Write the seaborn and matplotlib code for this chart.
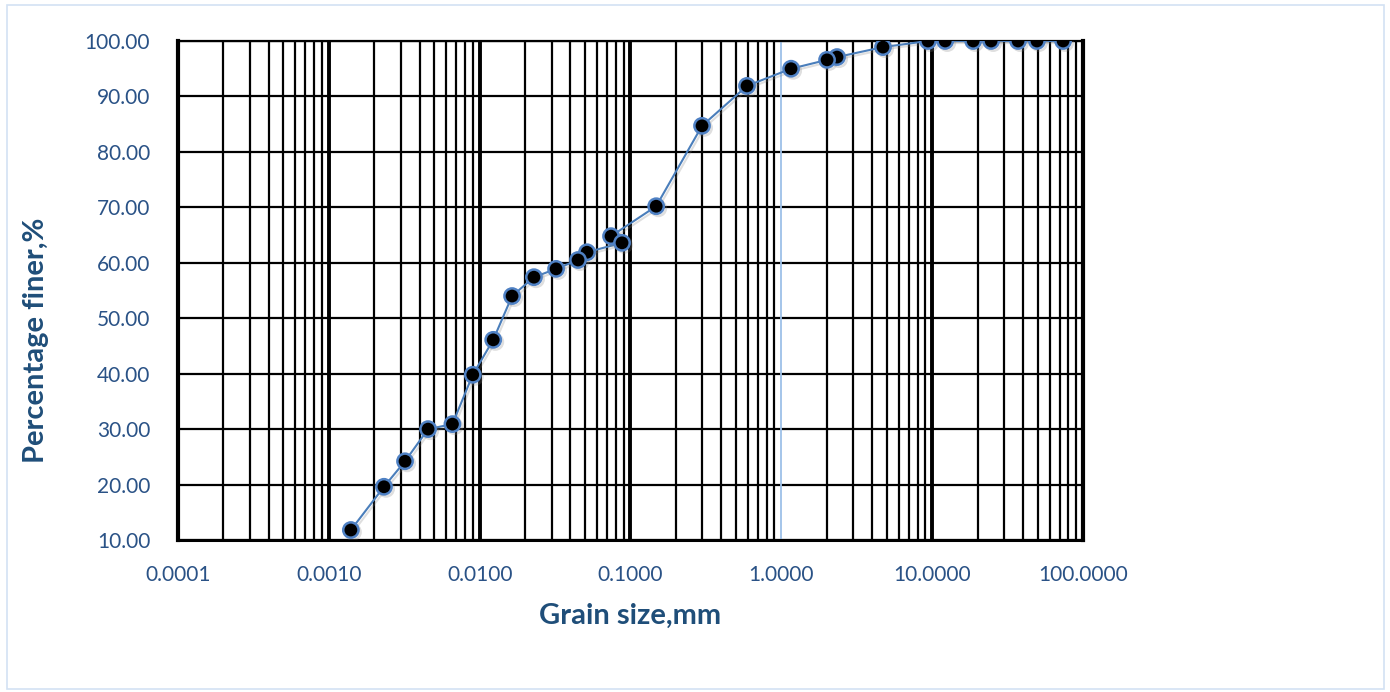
import matplotlib
matplotlib.use("Agg")
import matplotlib.pyplot as plt
import matplotlib.ticker as mticker
import matplotlib.patheffects as pe
from matplotlib.patches import Rectangle
import numpy as np
import pandas as pd
import seaborn as sns

# Grain-size distribution: sieve analysis followed by hydrometer readings
grain_size_mm = [73.8, 49.5, 37.1, 24.6, 18.7, 12.2, 9.38, 4.72, 2.34, 2.01, 1.16,
                 0.592, 0.298, 0.148, 0.0743, 0.0879, 0.0515, 0.0449, 0.0321,
                 0.0229, 0.0164, 0.0123, 0.0090, 0.0066, 0.00455, 0.0032,
                 0.00232, 0.0014]
percent_finer = [100.0, 100.0, 100.0, 100.0, 100.0, 100.0, 100.0, 98.9, 97.1, 96.6,
                 95.0, 91.9, 84.7, 70.2, 64.8, 63.6, 61.9, 60.5, 58.9,
                 57.4, 54.0, 46.1, 39.8, 30.9, 30.0, 24.2,
                 19.6, 11.8]

x_ticks = [0.0001, 0.001, 0.01, 0.1, 1, 10, 100]
x_tick_labels = ["0.0001", "0.0010", "0.0100", "0.1000", "1.0000", "10.0000", "100.0000"]
y_ticks = [10, 20, 30, 40, 50, 60, 70, 80, 90, 100]
y_tick_labels = [f"{v:.2f}" for v in y_ticks]

df = pd.DataFrame({"size": grain_size_mm, "finer": percent_finer})

sns.set_style("white")
plt.rcParams["font.family"] = ["Lato", "DejaVu Sans"]

label_color = "#2a5286"
title_color = "#1f4e79"
line_color = "#4a7ebb"

fig = plt.figure(figsize=(13.9, 6.92), dpi=100)
ax = fig.add_axes([178 / 1390, 152 / 692, 905 / 1390, 499 / 692])

# Chart-area frame
fig.patches.append(Rectangle((7 / 1390, 3 / 692), 1377 / 1390, 684 / 692,
                             transform=fig.transFigure, fill=False,
                             edgecolor="#d3e2f3", linewidth=1.2))

ax.set_xscale("log")
ax.set_xlim(0.0001, 100)
ax.set_ylim(10, 100)

ax.xaxis.set_major_locator(mticker.FixedLocator(x_ticks))
ax.xaxis.set_minor_locator(mticker.LogLocator(base=10, subs=np.arange(2, 10), numticks=20))
ax.xaxis.set_minor_formatter(mticker.NullFormatter())
ax.set_xticks(x_ticks)
ax.set_xticklabels(x_tick_labels)
ax.set_yticks(y_ticks)
ax.set_yticklabels(y_tick_labels)

ax.grid(True, axis="x", which="major", color="black", linewidth=2.8)
ax.grid(True, axis="x", which="minor", color="black", linewidth=1.6)
ax.grid(True, axis="y", which="major", color="black", linewidth=1.6)
ax.set_axisbelow(True)

# Vertical value axis crosses at 1.0 mm
for tick in ax.xaxis.get_major_ticks():
    if np.isclose(tick.get_loc(), 1.0):
        tick.gridline.set_visible(False)
ax.axvline(1.0, color="#9dc0e8", linewidth=1.3, zorder=1.5)

ax.tick_params(axis="both", which="both", length=0, labelcolor=label_color)
ax.tick_params(axis="x", labelsize=15, pad=18)
ax.tick_params(axis="y", labelsize=15, pad=20)

for side, w in {"left": 3.0, "bottom": 2.2, "top": 1.6, "right": 3.0}.items():
    ax.spines[side].set_visible(True)
    ax.spines[side].set_color("black")
    ax.spines[side].set_linewidth(w)

sns.lineplot(data=df, x="size", y="finer", sort=False, ax=ax, color=line_color,
             linewidth=1.5, marker="o", markersize=11, markerfacecolor="black",
             markeredgecolor="#4f81c4", markeredgewidth=1.8, zorder=5,
             path_effects=[pe.SimpleLineShadow(offset=(1.5, -1.5), alpha=0.25, shadow_color="gray"),
                           pe.Normal()])

ax.set_xlabel("Grain size,mm", fontsize=21, fontweight="bold", color=title_color)
ax.set_ylabel("Percentage finer,%", fontsize=21, fontweight="bold", color=title_color)
ax.xaxis.set_label_coords(0.4994, -0.126)
ax.yaxis.set_label_coords(-0.142, 0.40)

fig.savefig("out.png", dpi=100)
